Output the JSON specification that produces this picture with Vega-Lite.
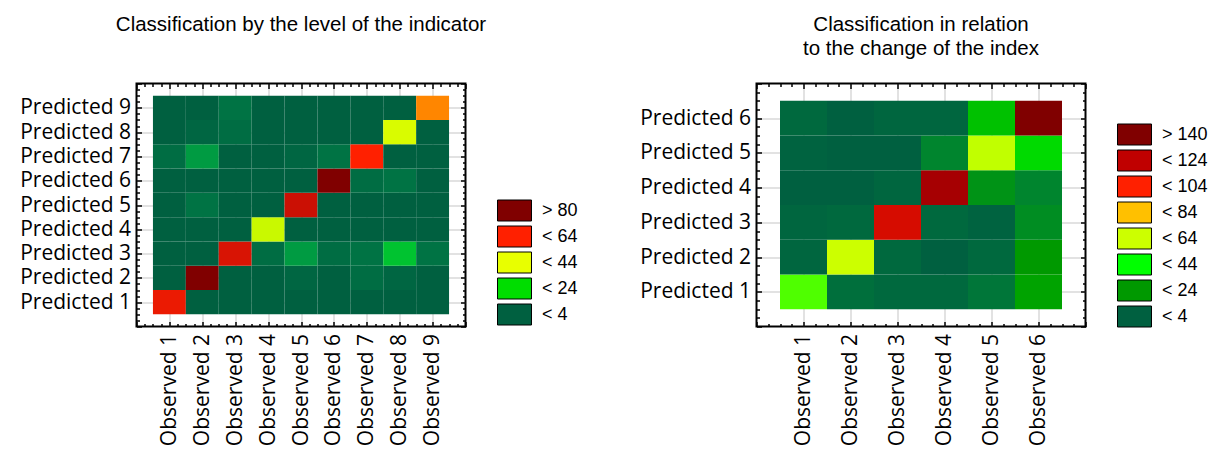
{
  "$schema": "https://vega.github.io/schema/vega-lite/v6.json",
  "background": "white",
  "padding": {"left": 18.5, "top": 13.5, "right": 5, "bottom": 0},
  "spacing": 59,
  "config": {
    "view": {"stroke": "#000000", "strokeWidth": 2},
    "title": {"font": "Liberation Sans", "fontSize": 20.5, "fontWeight": "normal", "color": "#000000", "anchor": "middle", "lineHeight": 24, "baseline": "alphabetic"},
    "axis": {"labelFont": "Open Sans", "labelFontSize": 21, "labelColor": "#000000", "domain": false, "tickColor": "#000000", "tickWidth": 1.5, "title": null, "labelOverlap": false, "labelFlush": false, "labelBound": false, "gridColor": "#a8a8a8", "gridWidth": 1.5, "zindex": 1},
    "legend": {"padding": 0}
  },
  "resolve": {"scale": {"color": "independent"}},
  "hconcat": [
    {
      "title": {"text": "Classification by the level of the indicator", "offset": 37},
      "width": 329,
      "height": 243,
      "data": {"values": [
        {"o":1,"p":1,"v":65},{"o":2,"p":1,"v":3},{"o":3,"p":1,"v":1},{"o":4,"p":1,"v":1},{"o":5,"p":1,"v":1},{"o":6,"p":1,"v":2},{"o":7,"p":1,"v":2},{"o":8,"p":1,"v":1},{"o":9,"p":1,"v":1},
        {"o":1,"p":2,"v":3},{"o":2,"p":2,"v":86},{"o":3,"p":2,"v":3},{"o":4,"p":2,"v":1},{"o":5,"p":2,"v":4},{"o":6,"p":2,"v":3},{"o":7,"p":2,"v":5},{"o":8,"p":2,"v":4},{"o":9,"p":2,"v":1},
        {"o":1,"p":3,"v":1},{"o":2,"p":3,"v":3},{"o":3,"p":3,"v":68},{"o":4,"p":3,"v":5},{"o":5,"p":3,"v":12},{"o":6,"p":3,"v":5},{"o":7,"p":3,"v":6},{"o":8,"p":3,"v":18},{"o":9,"p":3,"v":6},
        {"o":1,"p":4,"v":1},{"o":2,"p":4,"v":1},{"o":3,"p":4,"v":2},{"o":4,"p":4,"v":38},{"o":5,"p":4,"v":2},{"o":6,"p":4,"v":1},{"o":7,"p":4,"v":1},{"o":8,"p":4,"v":2},{"o":9,"p":4,"v":2},
        {"o":1,"p":5,"v":1},{"o":2,"p":5,"v":6},{"o":3,"p":5,"v":1},{"o":4,"p":5,"v":2},{"o":5,"p":5,"v":70},{"o":6,"p":5,"v":3},{"o":7,"p":5,"v":1},{"o":8,"p":5,"v":1},{"o":9,"p":5,"v":1},
        {"o":1,"p":6,"v":1},{"o":2,"p":6,"v":1},{"o":3,"p":6,"v":1},{"o":4,"p":6,"v":1},{"o":5,"p":6,"v":3},{"o":6,"p":6,"v":86},{"o":7,"p":6,"v":5},{"o":8,"p":6,"v":6},{"o":9,"p":6,"v":1},
        {"o":1,"p":7,"v":5},{"o":2,"p":7,"v":12},{"o":3,"p":7,"v":3},{"o":4,"p":7,"v":1},{"o":5,"p":7,"v":4},{"o":6,"p":7,"v":6},{"o":7,"p":7,"v":62},{"o":8,"p":7,"v":3},{"o":9,"p":7,"v":1},
        {"o":1,"p":8,"v":1},{"o":2,"p":8,"v":4},{"o":3,"p":8,"v":5},{"o":4,"p":8,"v":1},{"o":5,"p":8,"v":1},{"o":6,"p":8,"v":1},{"o":7,"p":8,"v":3},{"o":8,"p":8,"v":40},{"o":9,"p":8,"v":3},
        {"o":1,"p":9,"v":1},{"o":2,"p":9,"v":2},{"o":3,"p":9,"v":6},{"o":4,"p":9,"v":1},{"o":5,"p":9,"v":1},{"o":6,"p":9,"v":1},{"o":7,"p":9,"v":1},{"o":8,"p":9,"v":3},{"o":9,"p":9,"v":55}
      ]},
      "resolve": {"axis": {"x": "independent", "y": "independent"}},
      "layer": [
        {
          "mark": {"type": "rect", "width": 32.9, "height": 24.3},
          "encoding": {
            "x": {"field": "o", "type": "quantitative", "scale": {"domain": [0, 10], "nice": false, "zero": false},
              "axis": {"orient": "bottom", "values": [0,0.25,0.5,0.75,1,1.25,1.5,1.75,2,2.25,2.5,2.75,3,3.25,3.5,3.75,4,4.25,4.5,4.75,5,5.25,5.5,5.75,6,6.25,6.5,6.75,7,7.25,7.5,7.75,8,8.25,8.5,8.75,9,9.25,9.5,9.75,10],
                "tickSize": {"condition": {"test": "datum.value % 1 == 0", "value": -5}, "value": -3},
                "labelAngle": -90, "labelPadding": 12,
                "labelExpr": "datum.value % 1 == 0 && datum.value >= 1 && datum.value <= 9 ? 'Observed ' + datum.value : ''",
                "grid": true, "gridOpacity": {"condition": {"test": "datum.value % 1 == 0 && datum.value > 0 && datum.value < 10", "value": 0.45}, "value": 0}}},
            "y": {"field": "p", "type": "quantitative", "scale": {"domain": [0, 10], "nice": false, "zero": false},
              "axis": {"orient": "left", "values": [0,0.25,0.5,0.75,1,1.25,1.5,1.75,2,2.25,2.5,2.75,3,3.25,3.5,3.75,4,4.25,4.5,4.75,5,5.25,5.5,5.75,6,6.25,6.5,6.75,7,7.25,7.5,7.75,8,8.25,8.5,8.75,9,9.25,9.5,9.75,10],
                "tickSize": {"condition": {"test": "datum.value % 1 == 0", "value": -5}, "value": -3},
                "labelPadding": 11,
                "labelExpr": "datum.value % 1 == 0 && datum.value >= 1 && datum.value <= 9 ? 'Predicted ' + datum.value : ''",
                "grid": true, "gridOpacity": {"condition": {"test": "datum.value % 1 == 0 && datum.value > 0 && datum.value < 10", "value": 0.45}, "value": 0}}},
            "color": {"field": "v", "type": "quantitative",
              "scale": {"type": "linear", "domain": [3, 22, 42, 62, 82], "range": ["#006040", "#00dd00", "#e8ff00", "#ff2000", "#800000"], "clamp": true},
              "legend": {"type": "symbol", "orient": "none", "legendX": 360.5, "legendY": 116, "title": null,
                "values": [82, 62, 42, 22, 3],
                "labelExpr": "datum.value == 82 ? '> 80' : datum.value == 62 ? '< 64' : datum.value == 42 ? '< 44' : datum.value == 22 ? '< 24' : '< 4'",
                "symbolType": "M-1,-1H2.238V1H-1Z", "symbolSize": 441, "symbolStrokeColor": "#000000", "symbolStrokeWidth": 1, "symbolOpacity": 1,
                "labelFont": "Liberation Sans", "labelFontSize": 18, "labelColor": "#000000", "labelOffset": 23, "rowPadding": 0}}
          }
        },
        {
          "mark": {"type": "point", "opacity": 0},
          "encoding": {
            "x": {"field": "o", "type": "quantitative",
              "axis": {"orient": "top", "values": [0,0.25,0.5,0.75,1,1.25,1.5,1.75,2,2.25,2.5,2.75,3,3.25,3.5,3.75,4,4.25,4.5,4.75,5,5.25,5.5,5.75,6,6.25,6.5,6.75,7,7.25,7.5,7.75,8,8.25,8.5,8.75,9,9.25,9.5,9.75,10],
                "tickSize": {"condition": {"test": "datum.value % 1 == 0", "value": -5}, "value": -3}, "labels": false, "grid": false}},
            "y": {"field": "p", "type": "quantitative",
              "axis": {"orient": "right", "values": [0,0.25,0.5,0.75,1,1.25,1.5,1.75,2,2.25,2.5,2.75,3,3.25,3.5,3.75,4,4.25,4.5,4.75,5,5.25,5.5,5.75,6,6.25,6.5,6.75,7,7.25,7.5,7.75,8,8.25,8.5,8.75,9,9.25,9.5,9.75,10],
                "tickSize": {"condition": {"test": "datum.value % 1 == 0", "value": -5}, "value": -3}, "labels": false, "grid": false}}
          }
        }
      ]
    },
    {
      "title": {"text": ["Classification in relation", "to the change of the index"], "offset": 13},
      "width": 329,
      "height": 243,
      "data": {"values": [
        {"o":1,"p":1,"v":45},{"o":2,"p":1,"v":8},{"o":3,"p":1,"v":6},{"o":4,"p":1,"v":6},{"o":5,"p":1,"v":10},{"o":6,"p":1,"v":24},
        {"o":1,"p":2,"v":5},{"o":2,"p":2,"v":62},{"o":3,"p":2,"v":6},{"o":4,"p":2,"v":2},{"o":5,"p":2,"v":6},{"o":6,"p":2,"v":22},
        {"o":1,"p":3,"v":5},{"o":2,"p":3,"v":6},{"o":3,"p":3,"v":115},{"o":4,"p":3,"v":6},{"o":5,"p":3,"v":4},{"o":6,"p":3,"v":18},
        {"o":1,"p":4,"v":2},{"o":2,"p":4,"v":2},{"o":3,"p":4,"v":5},{"o":4,"p":4,"v":130},{"o":5,"p":4,"v":20},{"o":6,"p":4,"v":15},
        {"o":1,"p":5,"v":4},{"o":2,"p":5,"v":2},{"o":3,"p":5,"v":3},{"o":4,"p":5,"v":15},{"o":5,"p":5,"v":60},{"o":6,"p":5,"v":35},
        {"o":1,"p":6,"v":6},{"o":2,"p":6,"v":2},{"o":3,"p":6,"v":5},{"o":4,"p":6,"v":5},{"o":5,"p":6,"v":30},{"o":6,"p":6,"v":145}
      ]},
      "resolve": {"axis": {"x": "independent", "y": "independent"}},
      "layer": [
        {
          "mark": {"type": "rect", "width": 47, "height": 34.71},
          "encoding": {
            "x": {"field": "o", "type": "quantitative", "scale": {"domain": [0, 7], "nice": false, "zero": false},
              "axis": {"orient": "bottom", "values": [0,0.25,0.5,0.75,1,1.25,1.5,1.75,2,2.25,2.5,2.75,3,3.25,3.5,3.75,4,4.25,4.5,4.75,5,5.25,5.5,5.75,6,6.25,6.5,6.75,7],
                "tickSize": {"condition": {"test": "datum.value % 1 == 0", "value": -5}, "value": -3},
                "labelAngle": -90, "labelPadding": 12,
                "labelExpr": "datum.value % 1 == 0 && datum.value >= 1 && datum.value <= 6 ? 'Observed ' + datum.value : ''",
                "grid": true, "gridOpacity": {"condition": {"test": "datum.value % 1 == 0 && datum.value > 0 && datum.value < 7", "value": 0.45}, "value": 0}}},
            "y": {"field": "p", "type": "quantitative", "scale": {"domain": [0, 7], "nice": false, "zero": false},
              "axis": {"orient": "left", "values": [0,0.25,0.5,0.75,1,1.25,1.5,1.75,2,2.25,2.5,2.75,3,3.25,3.5,3.75,4,4.25,4.5,4.75,5,5.25,5.5,5.75,6,6.25,6.5,6.75,7],
                "tickSize": {"condition": {"test": "datum.value % 1 == 0", "value": -5}, "value": -3},
                "labelPadding": 11,
                "labelExpr": "datum.value % 1 == 0 && datum.value >= 1 && datum.value <= 6 ? 'Predicted ' + datum.value : ''",
                "grid": true, "gridOpacity": {"condition": {"test": "datum.value % 1 == 0 && datum.value > 0 && datum.value < 7", "value": 0.45}, "value": 0}}},
            "color": {"field": "v", "type": "quantitative",
              "scale": {"type": "linear", "domain": [3, 22, 42, 62, 82, 102, 122, 142], "range": ["#006040", "#009900", "#00ff00", "#ccff00", "#ffc000", "#ff2000", "#c00000", "#800000"], "clamp": true},
              "legend": {"type": "symbol", "orient": "none", "legendX": 360.5, "legendY": 40, "title": null,
                "values": [142, 122, 102, 82, 62, 42, 22, 3],
                "labelExpr": "datum.value == 142 ? '> 140' : datum.value == 122 ? '< 124' : datum.value == 102 ? '< 104' : datum.value == 82 ? '< 84' : datum.value == 62 ? '< 64' : datum.value == 42 ? '< 44' : datum.value == 22 ? '< 24' : '< 4'",
                "symbolType": "M-1,-1H2.238V1H-1Z", "symbolSize": 441, "symbolStrokeColor": "#000000", "symbolStrokeWidth": 1, "symbolOpacity": 1,
                "labelFont": "Liberation Sans", "labelFontSize": 18, "labelColor": "#000000", "labelOffset": 23, "rowPadding": 0}}
          }
        },
        {
          "mark": {"type": "point", "opacity": 0},
          "encoding": {
            "x": {"field": "o", "type": "quantitative",
              "axis": {"orient": "top", "values": [0,0.25,0.5,0.75,1,1.25,1.5,1.75,2,2.25,2.5,2.75,3,3.25,3.5,3.75,4,4.25,4.5,4.75,5,5.25,5.5,5.75,6,6.25,6.5,6.75,7],
                "tickSize": {"condition": {"test": "datum.value % 1 == 0", "value": -5}, "value": -3}, "labels": false, "grid": false}},
            "y": {"field": "p", "type": "quantitative",
              "axis": {"orient": "right", "values": [0,0.25,0.5,0.75,1,1.25,1.5,1.75,2,2.25,2.5,2.75,3,3.25,3.5,3.75,4,4.25,4.5,4.75,5,5.25,5.5,5.75,6,6.25,6.5,6.75,7],
                "tickSize": {"condition": {"test": "datum.value % 1 == 0", "value": -5}, "value": -3}, "labels": false, "grid": false}}
          }
        }
      ]
    }
  ]
}
